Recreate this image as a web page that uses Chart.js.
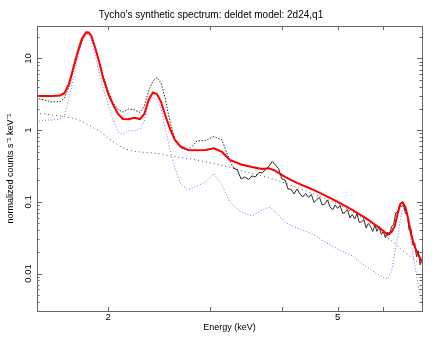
<!DOCTYPE html>
<html>
<head>
<meta charset="utf-8">
<script src="https://cdn.jsdelivr.net/npm/chart.js@4.4.1/dist/chart.umd.min.js"></script>
<style>
  html, body { margin: 0; padding: 0; background: #fff; }
  #wrap { width: 437px; height: 340px; }
</style>
</head>
<body>
<div id="wrap"><canvas id="spectrumChart"></canvas></div>
<script>
// --- values (keV, counts s^-1 keV^-1) ---
const modelEnergy = [1.50, 1.55, 1.60, 1.65, 1.68, 1.71, 1.74, 1.77, 1.80, 1.83,
  1.85, 1.87, 1.90, 1.93, 1.96, 2.00, 2.04, 2.08, 2.12, 2.17,
  2.22, 2.27, 2.31, 2.35, 2.39, 2.43, 2.47, 2.51, 2.56, 2.61,
  2.67, 2.75, 2.85, 2.95, 3.05, 3.15, 3.25, 3.40, 3.55, 3.70,
  3.80, 3.90, 4.05, 4.25, 4.50, 4.75, 5.00, 5.30, 5.60, 5.85,
  6.00, 6.10, 6.20, 6.28, 6.35, 6.42, 6.48, 6.55, 6.62, 6.70,
  6.80, 6.90, 7.00];

// total model (red)
const modelTotal = [3.00, 3.00, 3.00, 3.05, 3.30, 4.41, 7.37, 12.3, 18.7, 23.2,
  23.0, 20.6, 13.8, 8.80, 5.35, 3.20, 2.25, 1.68, 1.43, 1.42,
  1.49, 1.43, 1.68, 2.64, 3.36, 3.20, 2.47, 1.63, 1.04, 0.730,
  0.592, 0.530, 0.526, 0.530, 0.559, 0.497, 0.384, 0.332, 0.307, 0.288,
  0.294, 0.270, 0.2225, 0.1835, 0.1513, 0.1228, 0.0997, 0.0771, 0.0587, 0.0461,
  0.0393, 0.0351, 0.0380, 0.0461, 0.0678, 0.0935, 0.0981, 0.0849, 0.0596, 0.0357,
  0.0235, 0.0182, 0.0145];

// line component (blue dotted)
const modelLines = [1.31, 1.37, 1.39, 1.43, 1.63, 2.81, 5.26, 9.53, 17.3, 21.3,
  22.0, 18.1, 10.8, 6.28, 3.88, 2.24, 1.41, 0.944, 0.871, 0.990,
  0.975, 1.04, 1.34, 2.40, 2.90, 2.64, 2.04, 1.07, 0.530, 0.297,
  0.178, 0.1465, 0.1666, 0.1895, 0.245, 0.172, 0.0997, 0.0723, 0.0636, 0.0771,
  0.0841, 0.0723, 0.0524, 0.0433, 0.0362, 0.0276, 0.0220, 0.0176, 0.01256, 0.00987,
  0.00882, 0.00833, 0.01087, 0.0194, 0.0314, 0.0577, 0.0822, 0.0796, 0.0559, 0.0276,
  0.0131, 0.00689, 0.00387];

// continuum component (grey dotted)
const modelContinuum = [1.72, 1.68, 1.63, 1.58, 1.54, 1.50, 1.46, 1.41, 1.34, 1.24,
  1.18, 1.13, 1.04, 0.975, 0.885, 0.778, 0.696, 0.622, 0.565, 0.530,
  0.505, 0.497, 0.491, 0.487, 0.481, 0.473, 0.465, 0.451, 0.437, 0.427,
  0.416, 0.400, 0.384, 0.360, 0.343, 0.322, 0.302, 0.274, 0.249, 0.230,
  0.2155, 0.202, 0.1835, 0.1588, 0.1331, 0.1115, 0.0935, 0.0723, 0.0559, 0.0433,
  0.0368, 0.0314, 0.0285, 0.0263, 0.0243, 0.0220, 0.0207, 0.0194, 0.0182, 0.0168,
  0.0155, 0.0143, 0.0132];

// synthetic spectrum (black)
const dataEnergy = [1.50, 1.55, 1.60, 1.65, 1.68, 1.71, 1.74, 1.77, 1.80, 1.83,
  1.85, 1.87, 1.90, 1.93, 1.96, 2.00, 2.04, 2.08, 2.12, 2.17,
  2.22, 2.27, 2.31, 2.35, 2.39, 2.43, 2.47, 2.51, 2.56, 2.61,
  2.67, 2.75, 2.80, 2.85, 2.95, 3.05, 3.15, 3.25,
  3.30, 3.35, 3.40, 3.45, 3.50, 3.55, 3.60, 3.65, 3.70, 3.75,
  3.80, 3.85, 3.90, 3.95, 4.00, 4.05, 4.10, 4.15, 4.20, 4.25,
  4.30, 4.35, 4.40, 4.45, 4.50, 4.55, 4.60, 4.65, 4.70, 4.75,
  4.80, 4.85, 4.90, 4.95, 5.00, 5.05, 5.10, 5.15, 5.20, 5.25,
  5.30, 5.35, 5.40, 5.45, 5.50, 5.55, 5.60, 5.65, 5.70, 5.75,
  5.80, 5.85, 5.90, 5.95, 6.00, 6.05, 6.10, 6.15, 6.20, 6.25,
  6.30, 6.35, 6.40, 6.45, 6.50, 6.55, 6.60, 6.65, 6.70, 6.75,
  6.80, 6.85, 6.90, 6.95, 7.00];

const dataRate = [2.81, 2.64, 2.47, 2.50, 2.81, 4.00, 6.69, 11.2, 17.3, 22.3,
  23.0, 20.6, 13.6, 9.23, 5.70, 3.52, 2.40, 1.94, 1.79, 1.98,
  1.91, 1.77, 2.18, 3.52, 4.86, 5.43, 4.55, 2.81, 1.30, 0.730,
  0.565, 0.530, 0.600, 0.707, 0.718, 0.817, 0.730, 0.372,
  0.297, 0.2787, 0.2087, 0.2225, 0.2053, 0.2298, 0.2225, 0.2570, 0.2530, 0.2830,
  0.3167, 0.3660, 0.327, 0.288, 0.2087, 0.2020, 0.1513, 0.1489, 0.1289, 0.1513,
  0.1289, 0.1170, 0.1310, 0.1151, 0.1268, 0.0981, 0.1080, 0.1151, 0.0905, 0.0935,
  0.1063, 0.0849, 0.0771, 0.0905, 0.0809, 0.0891, 0.0689, 0.0712, 0.0783, 0.0596,
  0.0667, 0.0577, 0.0678, 0.0516, 0.0524, 0.0568, 0.0433, 0.0500, 0.0454, 0.0387,
  0.0469, 0.0387, 0.0454, 0.0351, 0.0387, 0.0314, 0.0380, 0.0345, 0.0454, 0.0476,
  0.0700, 0.0723, 0.0905, 0.0863, 0.0905, 0.0700, 0.0656, 0.0405, 0.0419, 0.0250,
  0.0267, 0.0170, 0.0207, 0.0132, 0.0160];

// tick positions / labels
const xTickValues = [2, 3, 4, 5, 6, 7];
const xTickLabels = [2, 5];
const yTickValues = [0.003, 0.004, 0.005, 0.006, 0.007, 0.008, 0.009,
  0.01, 0.02, 0.03, 0.04, 0.05, 0.06, 0.07, 0.08, 0.09,
  0.1, 0.2, 0.3, 0.4, 0.5, 0.6, 0.7, 0.8, 0.9,
  1, 2, 3, 4, 5, 6, 7, 8, 9, 10, 20];
const yTickLabels = [0.01, 0.1, 1, 10];

const toPoints = (xs, ys) => xs.map((x, i) => ({ x: x, y: ys[i] }));

// frame with inward tick marks on all four sides
const frameTicks = {
  id: "frameTicks",
  afterDatasetsDraw(chart) {
    const { ctx, chartArea: a, scales } = chart;
    ctx.save();
    ctx.strokeStyle = "#666";
    ctx.lineWidth = 1;
    ctx.strokeRect(Math.round(a.left) + 0.5, Math.round(a.top) + 0.5,
      Math.round(a.right - a.left), Math.round(a.bottom - a.top));
    ctx.beginPath();
    xTickValues.forEach((v) => {
      const px = Math.round(scales.x.getPixelForValue(v)) + 0.5;
      ctx.moveTo(px, a.bottom); ctx.lineTo(px, a.bottom - 4);
      ctx.moveTo(px, a.top); ctx.lineTo(px, a.top + 4);
    });
    yTickValues.forEach((v) => {
      const len = yTickLabels.includes(v) ? 5 : 2.5;
      const py = Math.round(scales.y.getPixelForValue(v)) + 0.5;
      ctx.moveTo(a.left, py); ctx.lineTo(a.left + len, py);
      ctx.moveTo(a.right, py); ctx.lineTo(a.right - len, py);
    });
    ctx.stroke();
    ctx.restore();
  },
};

Chart.defaults.font.family = "'Liberation Sans', Arial, sans-serif";
Chart.defaults.color = "#000";

new Chart(document.getElementById("spectrumChart"), {
  type: "scatter",
  data: {
    datasets: [
      {
        label: "model",
        data: toPoints(modelEnergy, modelTotal),
        showLine: true,
        borderColor: "#ff0000",
        borderWidth: 2,
        pointRadius: 0,
      },
      {
        label: "data",
        data: toPoints(dataEnergy, dataRate),
        showLine: true,
        borderColor: "#2a2a2a",
        borderWidth: 1,
        pointRadius: 0,
        segment: {
          borderDash: (ctx) => (ctx.p0.parsed.x < 3.28 ? [1.5, 1.5] : []),
        },
      },
      {
        label: "lines",
        data: toPoints(modelEnergy, modelLines),
        showLine: true,
        borderColor: "#6f6fff",
        borderWidth: 1,
        borderDash: [1, 2],
        pointRadius: 0,
      },
      {
        label: "continuum",
        data: toPoints(modelEnergy, modelContinuum),
        showLine: true,
        borderColor: "#555",
        borderWidth: 1,
        borderDash: [1, 3],
        pointRadius: 0,
      },
    ],
  },
  options: {
    responsive: true,
    maintainAspectRatio: false,
    animation: false,
    layout: { padding: { left: 0, right: 15, top: 0, bottom: 0 } },
    plugins: {
      legend: { display: false },
      tooltip: { enabled: false },
      title: {
        display: true,
        text: "Tycho’s synthetic spectrum: deldet model: 2d24,q1",
        color: "#000",
        font: { size: 10, weight: "normal", lineHeight: 1.2 },
        padding: { top: 9, bottom: 5 },
      },
    },
    scales: {
      x: {
        type: "logarithmic",
        min: 1.505,
        max: 7,
        bounds: "data",
        grid: { display: false, drawTicks: false },
        border: { display: false },
        afterBuildTicks: (scale) => {
          scale.ticks = xTickValues.map((v) => ({ value: v }));
        },
        afterFit: (scale) => {
          scale.height = 29;
        },
        ticks: {
          autoSkip: false,
          maxRotation: 0,
          padding: 1,
          font: { size: 9.5 },
          callback: (v) => (xTickLabels.includes(v) ? String(v) : ""),
        },
        title: {
          display: true,
          text: "Energy (keV)",
          font: { size: 9 },
          padding: { top: 0, bottom: 7 },
        },
      },
      y: {
        type: "logarithmic",
        min: 0.003,
        max: 28.4,
        bounds: "data",
        grid: { display: false, drawTicks: false },
        border: { display: false },
        afterBuildTicks: (scale) => {
          scale.ticks = yTickValues.map((v) => ({ value: v }));
        },
        afterFit: (scale) => {
          scale.width = 37;
        },
        ticks: {
          autoSkip: false,
          minRotation: 90,
          maxRotation: 90,
          crossAlign: "center",
          padding: -1,
          font: { size: 9.5 },
          callback: (v) => (yTickLabels.includes(v) ? String(v) : ""),
        },
        title: {
          display: true,
          text: "normalized counts s⁻¹ keV⁻¹",
          font: { size: 9 },
          padding: { top: 5.5, bottom: 0 },
        },
      },
    },
  },
  plugins: [frameTicks],
});
</script>
</body>
</html>
